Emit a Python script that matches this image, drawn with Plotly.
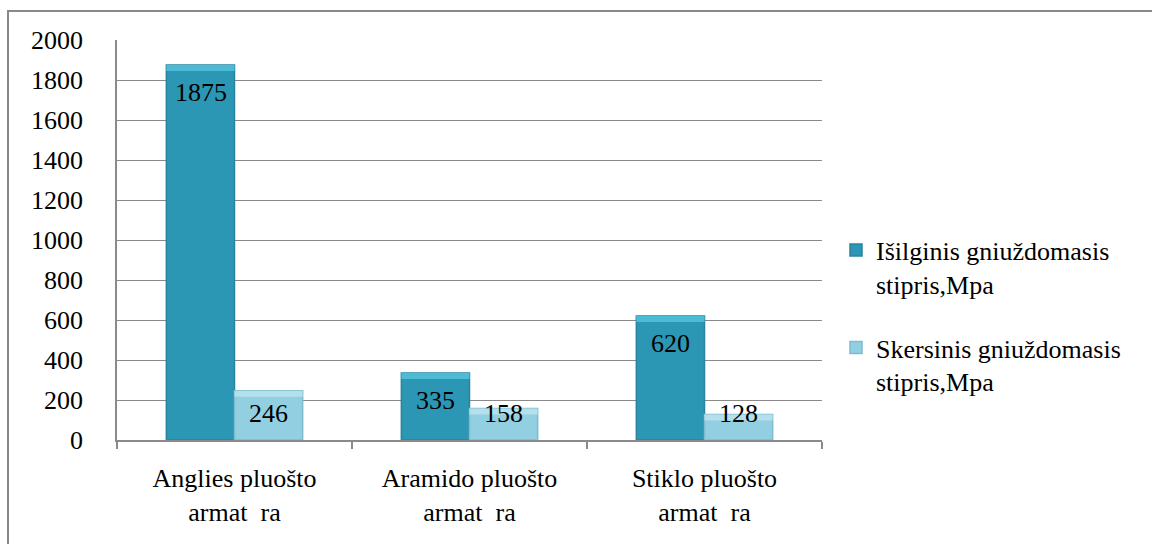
import plotly.graph_objects as go

# Data
categories = ["Anglies pluošto<br>armat\u00a0\u00a0ra",
              "Aramido pluošto<br>armat\u00a0\u00a0ra",
              "Stiklo pluošto<br>armat\u00a0\u00a0ra"]
series_names = ["Išilginis gniuždomasis<br>stipris,Mpa",
                "Skersinis gniuždomasis<br>stipris,Mpa"]
longitudinal = [1875, 335, 620]
transverse = [246, 158, 128]
y_ticks = list(range(0, 2001, 200))

FONT = "Liberation Serif, Times New Roman, serif"
FS = 26
GRID = "#8a8a8a"

# plot geometry (px)
W, H = 1152, 544
L, R, T, B = 117, 330, 40, 104
plot_h = H - T - B
y_max = 2000
px_per_unit = plot_h / y_max

dark = dict(body="#2c97b4", top="#4cbcd6", edge="#2a849d")
light = dict(body="#92cfe1", top="#b3e0ec", edge="#7dbccf")
bevel_px = 6

fig = go.Figure()
for name, vals, col, grp in [(series_names[0], longitudinal, dark, "a"),
                             (series_names[1], transverse, light, "b")]:
    fig.add_trace(go.Bar(
        x=categories, y=vals, name=name, offsetgroup=grp, legendgroup=grp,
        marker=dict(color=col["body"], line=dict(color=col["edge"], width=1.5)),
        hoverinfo="skip",
    ))
    # lighter bevel strip along the top face of each bar
    bevel_units = bevel_px / px_per_unit
    fig.add_trace(go.Bar(
        x=categories, y=[bevel_units] * len(vals),
        base=[v - bevel_units for v in vals],
        offsetgroup=grp, showlegend=False,
        marker=dict(color=col["top"], line=dict(width=0)),
        hoverinfo="skip",
    ))

# value labels placed inside the top of each bar
inset_px = 27
annotations = []
for vals, shift in [(longitudinal, -34), (transverse, 34)]:
    for c, v in zip(categories, vals):
        bar_px = v * px_per_unit
        if bar_px >= 2 * inset_px:
            y, ys = v, -inset_px
        else:
            y, ys = 0, inset_px
        annotations.append(dict(
            x=c, y=y, xref="x", yref="y", text=str(v), showarrow=False,
            xshift=shift, yshift=ys, yanchor="middle",
            font=dict(family=FONT, size=FS, color="black"),
        ))

fig.update_layout(
    width=W, height=H,
    margin=dict(l=L, r=R, t=T, b=B, pad=0),
    paper_bgcolor="white", plot_bgcolor="white",
    barmode="group", bargap=0.42, bargroupgap=0,
    font=dict(family=FONT, size=FS, color="black"),
    showlegend=True,
    legend=dict(
        x=(836 - L) / (W - L - R), y=0.31, xanchor="left", yanchor="middle",
        valign="top", tracegroupgap=27, itemwidth=30,
        font=dict(family=FONT, size=FS, color="black"),
        bgcolor="rgba(0,0,0,0)",
    ),
    annotations=annotations,
    shapes=[dict(
        type="rect", xref="paper", yref="paper",
        x0=(8 - L) / (W - L - R), x1=(W + 20 - L) / (W - L - R),
        y0=-(B + 30) / plot_h, y1=1 + (T - 11) / plot_h,
        line=dict(color="#888888", width=2), fillcolor="rgba(0,0,0,0)",
        layer="below",
    )],
)

fig.update_xaxes(
    showline=True, linecolor=GRID, linewidth=1.5,
    ticks="outside", tickson="boundaries", ticklen=7, tickcolor=GRID, tickwidth=1.5,
    showgrid=False, ticklabelstandoff=14,
    tickfont=dict(family=FONT, size=FS, color="black"),
)
fig.update_yaxes(
    range=[0, y_max], tickvals=y_ticks, ticktext=[str(t) for t in y_ticks],
    showline=True, linecolor=GRID, linewidth=1.5,
    showgrid=True, gridcolor=GRID, gridwidth=1.3,
    ticks="", ticklabelstandoff=27, zeroline=False,
    tickfont=dict(family=FONT, size=FS, color="black"),
)

fig.write_html("out.html")
